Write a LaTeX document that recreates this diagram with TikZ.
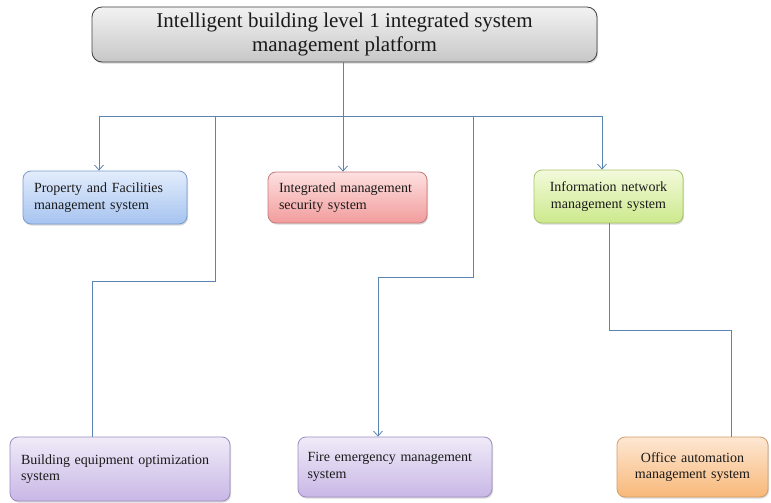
\documentclass[tikz,border=0pt]{standalone}
\usepackage{fontspec}
\setmainfont{Liberation Serif}
\usetikzlibrary{arrows.meta,shadows}
\definecolor{linec}{HTML}{5B84B1}
\definecolor{txt}{HTML}{1A1A1A}
\tikzset{
  box/.style={draw, rounded corners=8pt, line width=0.8pt, text=txt,
    font=\fontsize{14}{16.5}\selectfont, inner xsep=11pt, inner ysep=3pt,
    drop shadow={shadow xshift=1pt, shadow yshift=-1.6pt, opacity=0.3}},
  topbox/.style={box, rounded corners=10pt, draw=black!75, top color=white!95!black, bottom color=black!22,
    font=\fontsize{21}{24}\selectfont},
  bluebox/.style={box, draw=HTML5b, top color=bluetop, bottom color=bluebot, draw=blueline},
  redbox/.style={box, top color=redtop, bottom color=redbot, draw=redline},
  greenbox/.style={box, top color=greentop, bottom color=greenbot, draw=greenline},
  purplebox/.style={box, top color=purptop, bottom color=purpbot, draw=purpline},
  orangebox/.style={box, top color=orantop, bottom color=oranbot, draw=oranline},
  conn/.style={draw=linec, line width=0.8pt},
  arr/.style={conn, -{Straight Barb[length=5pt,width=9pt]}}
}
\definecolor{HTML5b}{HTML}{5B84B1}
\definecolor{bluetop}{HTML}{E3EDFC}
\definecolor{bluebot}{HTML}{A6C3F0}
\definecolor{blueline}{HTML}{7A9CCB}
\definecolor{redtop}{HTML}{FDE0E0}
\definecolor{redbot}{HTML}{F29C9C}
\definecolor{redline}{HTML}{C47A7A}
\definecolor{greentop}{HTML}{F3FADB}
\definecolor{greenbot}{HTML}{CCE98C}
\definecolor{greenline}{HTML}{A5C46A}
\definecolor{purptop}{HTML}{F0EBF8}
\definecolor{purpbot}{HTML}{C8B7E6}
\definecolor{purpline}{HTML}{9D8CC0}
\definecolor{orantop}{HTML}{FDE7D2}
\definecolor{oranbot}{HTML}{F8B87A}
\definecolor{oranline}{HTML}{D39D66}
\begin{document}
\begin{tikzpicture}[x=1pt,y=-1pt]
\useasboundingbox (0,0) rectangle (771,503);
\node[topbox, minimum width=505pt, minimum height=55pt, align=center] (top) at (344.5,34.5)
  {Intelligent building level 1 integrated system\\management platform};
\node[bluebox, minimum width=164pt, minimum height=53pt, text width=142pt, align=left] (prop) at (105,197.5)
  {Property and Facilities\\management system};
\node[redbox, minimum width=159pt, minimum height=51pt, text width=137pt, align=left] (integ) at (347.5,197.5)
  {Integrated management\\security system};
\node[greenbox, minimum width=149pt, minimum height=53pt, text width=127pt, align=center] (info) at (608.5,196.5)
  {Information network\\management system};
\node[purplebox, minimum width=220pt, minimum height=64pt, text width=198pt, align=left] (build) at (120,469)
  {Building equipment optimization\\system};
\node[purplebox, minimum width=194pt, minimum height=60pt, text width=175pt, align=left, inner xsep=9pt] (fire) at (395,467)
  {Fire emergency management\\system};
\node[orangebox, minimum width=151pt, minimum height=60pt, text width=129pt, align=center] (office) at (692.5,467)
  {Office automation\\management system};
% bus
\coordinate (b1) at (99,116);
\coordinate (b2) at (215,116);
\coordinate (b3) at (343,116);
\coordinate (b4) at (473,116);
\coordinate (b5) at (602,116);
\coordinate (k1) at (92,281);
\coordinate (k2) at (378,277);
\coordinate (k3) at (731,330);
\draw[conn] (top.south -| b3) -- (b3);
\draw[conn] (b1) -- (b5);
\draw[arr] (b1) -- (b1 |- prop.north);
\draw[arr] (b3) -- (b3 |- integ.north);
\draw[arr] (b5) -- (b5 |- info.north);
\draw[conn] (b2) -- (b2 |- k1) -- (k1) -- (k1 |- build.north);
\draw[arr] (b4) -- (b4 |- k2) -- (k2) -- (k2 |- fire.north);
\draw[conn] (info.south -| 609,0) -- (609,330) -- (k3) -- (k3 |- office.north);
\end{tikzpicture}
\end{document}
